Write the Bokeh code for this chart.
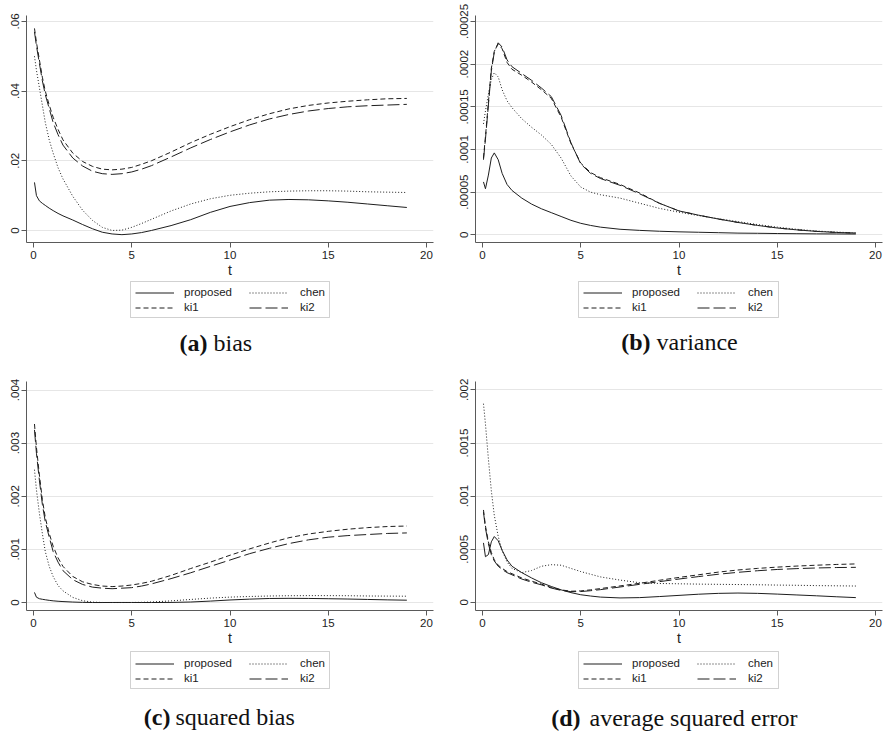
from bokeh.plotting import figure
from bokeh.models import Range1d, FixedTicker, Legend, LegendItem, Label, BoxAnnotation
from bokeh.layouts import gridplot
from bokeh.embed import file_html
from bokeh.resources import INLINE

# ---------------- data ----------------
T = [0.05, 0.15, 0.3, 0.45, 0.6, 0.8, 1.0, 1.25, 1.5,
     2, 2.5, 3, 3.5, 4, 4.5, 5, 5.5, 6,
     7, 8, 9, 10, 11, 12, 13, 14, 15, 16, 17, 18, 19]

SERIES = ["proposed", "chen", "ki1", "ki2"]

# (a) bias
bias_proposed = [0.0138, 0.0100, 0.0085, 0.0078, 0.0072, 0.0064, 0.0057, 0.0049, 0.0042,
                 0.0030, 0.0017, 0.0005, -0.0005, -0.0010, -0.0012, -0.0010, -0.0006, 0.0000,
                 0.0014, 0.0031, 0.0052, 0.0069, 0.0080, 0.0087, 0.0089, 0.0088, 0.0085, 0.0081, 0.0076, 0.0071, 0.0066]
bias_chen = [0.050, 0.046, 0.041, 0.036, 0.031, 0.026, 0.0222, 0.018, 0.0148,
             0.0098, 0.0058, 0.0029, 0.0009, 0.0000, 0.0001, 0.0009, 0.0020, 0.0032,
             0.0056, 0.0076, 0.0091, 0.0101, 0.0107, 0.0111, 0.0113, 0.0114, 0.0114, 0.0113, 0.0111, 0.0110, 0.0109]
bias_ki1 = [0.058, 0.054, 0.049, 0.044, 0.040, 0.036, 0.0325, 0.029, 0.026,
            0.0222, 0.0198, 0.0184, 0.0176, 0.0174, 0.0176, 0.0181, 0.0190, 0.0200,
            0.0225, 0.0252, 0.0276, 0.0298, 0.0318, 0.0335, 0.0349, 0.0359, 0.0366, 0.0371, 0.0375, 0.0378, 0.0379]
bias_ki2 = [0.057, 0.053, 0.048, 0.043, 0.039, 0.035, 0.031, 0.0275, 0.0245,
            0.0208, 0.0185, 0.0170, 0.0163, 0.0161, 0.0163, 0.0168, 0.0176, 0.0186,
            0.0211, 0.0237, 0.0261, 0.0283, 0.0303, 0.0320, 0.0333, 0.0343, 0.0350, 0.0355, 0.0358, 0.0360, 0.0362]

# (b) variance
var_proposed = [6.2e-5, 5.4e-5, 7.0e-5, 9.0e-5, 9.6e-5, 8.8e-5, 7.2e-5, 5.9e-5, 5.2e-5,
                4.3e-5, 3.6e-5, 3.05e-5, 2.6e-5, 2.15e-5, 1.7e-5, 1.35e-5, 1.1e-5, 0.9e-5,
                0.65e-5, 0.52e-5, 0.42e-5, 0.35e-5, 0.3e-5, 0.25e-5, 0.2e-5, 0.18e-5, 0.15e-5, 0.13e-5, 0.11e-5, 0.1e-5, 0.09e-5]
var_chen = [1.30e-4, 1.45e-4, 1.65e-4, 1.82e-4, 1.90e-4, 1.85e-4, 1.70e-4, 1.57e-4, 1.49e-4,
            1.36e-4, 1.26e-4, 1.17e-4, 1.06e-4, 9.0e-5, 6.9e-5, 5.6e-5, 5.0e-5, 4.7e-5,
            4.3e-5, 3.7e-5, 3.1e-5, 2.65e-5, 2.25e-5, 1.9e-5, 1.55e-5, 1.2e-5, 9.0e-6, 6.5e-6, 4.5e-6, 3.2e-6, 2.3e-6]
var_ki1 = [9.0e-5, 1.15e-4, 1.55e-4, 1.95e-4, 2.15e-4, 2.24e-4, 2.18e-4, 2.02e-4, 1.94e-4,
           1.87e-4, 1.79e-4, 1.70e-4, 1.60e-4, 1.38e-4, 1.07e-4, 8.4e-5, 7.3e-5, 6.7e-5,
           5.9e-5, 4.9e-5, 3.7e-5, 2.8e-5, 2.3e-5, 1.85e-5, 1.45e-5, 1.1e-5, 8.0e-6, 5.8e-6, 4.0e-6, 2.8e-6, 2.0e-6]
var_ki2 = [8.8e-5, 1.12e-4, 1.52e-4, 1.92e-4, 2.14e-4, 2.25e-4, 2.20e-4, 2.05e-4, 1.97e-4,
           1.89e-4, 1.81e-4, 1.72e-4, 1.62e-4, 1.40e-4, 1.08e-4, 8.3e-5, 7.2e-5, 6.6e-5,
           5.8e-5, 4.8e-5, 3.7e-5, 2.8e-5, 2.3e-5, 1.85e-5, 1.45e-5, 1.1e-5, 8.0e-6, 5.8e-6, 4.0e-6, 2.8e-6, 2.0e-6]

# (c) squared bias
sqb_proposed = [1.90e-4, 1.00e-4, 7.2e-5, 6.1e-5, 5.2e-5, 4.1e-5, 3.2e-5, 2.4e-5, 1.8e-5,
                9.0e-6, 3.0e-6, 2.5e-7, 2.5e-7, 1.0e-6, 1.4e-6, 1.0e-6, 3.6e-7, 0.0,
                2.0e-6, 9.6e-6, 2.7e-5, 4.8e-5, 6.4e-5, 7.6e-5, 7.9e-5, 7.7e-5, 7.2e-5, 6.6e-5, 5.8e-5, 5.0e-5, 4.4e-5]
sqb_chen = [2.50e-3, 2.12e-3, 1.68e-3, 1.30e-3, 9.6e-4, 6.8e-4, 4.9e-4, 3.2e-4, 2.2e-4,
            9.6e-5, 3.4e-5, 8.0e-6, 1.0e-6, 0.0, 0.0, 1.0e-6, 4.0e-6, 1.0e-5,
            3.1e-5, 5.8e-5, 8.3e-5, 1.02e-4, 1.14e-4, 1.23e-4, 1.28e-4, 1.30e-4, 1.30e-4, 1.28e-4, 1.23e-4, 1.21e-4, 1.19e-4]
sqb_ki1 = [3.36e-3, 2.92e-3, 2.40e-3, 1.94e-3, 1.60e-3, 1.30e-3, 1.06e-3, 8.4e-4, 6.8e-4,
           4.9e-4, 3.9e-4, 3.4e-4, 3.1e-4, 3.0e-4, 3.1e-4, 3.3e-4, 3.6e-4, 4.0e-4,
           5.1e-4, 6.4e-4, 7.6e-4, 8.9e-4, 1.01e-3, 1.12e-3, 1.22e-3, 1.29e-3, 1.34e-3, 1.38e-3, 1.41e-3, 1.43e-3, 1.44e-3]
sqb_ki2 = [3.25e-3, 2.81e-3, 2.30e-3, 1.85e-3, 1.52e-3, 1.23e-3, 9.6e-4, 7.6e-4, 6.0e-4,
           4.3e-4, 3.4e-4, 2.9e-4, 2.7e-4, 2.6e-4, 2.7e-4, 2.8e-4, 3.1e-4, 3.5e-4,
           4.5e-4, 5.6e-4, 6.8e-4, 8.0e-4, 9.2e-4, 1.02e-3, 1.11e-3, 1.18e-3, 1.23e-3, 1.26e-3, 1.28e-3, 1.30e-3, 1.31e-3]

# (d) average squared error
ase_proposed = [5.6e-4, 4.3e-4, 4.5e-4, 5.7e-4, 6.2e-4, 5.8e-4, 4.9e-4, 4.0e-4, 3.4e-4,
                2.8e-4, 2.3e-4, 1.85e-4, 1.5e-4, 1.18e-4, 9.2e-5, 7.2e-5, 6.0e-5, 5.0e-5,
                4.2e-5, 4.5e-5, 5.5e-5, 6.6e-5, 7.7e-5, 8.5e-5, 8.8e-5, 8.5e-5, 7.8e-5, 7.0e-5, 6.2e-5, 5.3e-5, 4.5e-5]
ase_chen = [1.87e-3, 1.68e-3, 1.35e-3, 1.05e-3, 8.2e-4, 6.2e-4, 4.9e-4, 3.8e-4, 3.2e-4,
            2.8e-4, 3.0e-4, 3.4e-4, 3.55e-4, 3.5e-4, 3.2e-4, 2.9e-4, 2.65e-4, 2.4e-4,
            2.1e-4, 1.85e-4, 1.78e-4, 1.75e-4, 1.72e-4, 1.70e-4, 1.68e-4, 1.66e-4, 1.63e-4, 1.61e-4, 1.58e-4, 1.56e-4, 1.54e-4]
ase_ki1 = [8.7e-4, 7.2e-4, 5.7e-4, 4.7e-4, 4.0e-4, 3.5e-4, 3.2e-4, 2.9e-4, 2.7e-4,
           2.3e-4, 2.0e-4, 1.72e-4, 1.4e-4, 1.18e-4, 1.05e-4, 1.08e-4, 1.18e-4, 1.3e-4,
           1.55e-4, 1.8e-4, 2.08e-4, 2.35e-4, 2.6e-4, 2.85e-4, 3.05e-4, 3.2e-4, 3.32e-4, 3.42e-4, 3.5e-4, 3.57e-4, 3.62e-4]
ase_ki2 = [8.5e-4, 7.0e-4, 5.5e-4, 4.5e-4, 3.9e-4, 3.4e-4, 3.1e-4, 2.8e-4, 2.6e-4,
           2.2e-4, 1.9e-4, 1.65e-4, 1.35e-4, 1.13e-4, 1.01e-4, 1.02e-4, 1.1e-4, 1.2e-4,
           1.45e-4, 1.7e-4, 1.95e-4, 2.2e-4, 2.43e-4, 2.65e-4, 2.83e-4, 2.98e-4, 3.1e-4, 3.18e-4, 3.24e-4, 3.28e-4, 3.3e-4]

X_TICKS = [0, 5, 10, 15, 20]
X_LABELS = ["0", "5", "10", "15", "20"]
BIAS_TICKS = [0, 0.02, 0.04, 0.06]
BIAS_LABELS = ["0", ".02", ".04", ".06"]
VAR_TICKS = [0, 0.00005, 0.0001, 0.00015, 0.0002, 0.00025]
VAR_LABELS = ["0", ".00005", ".0001", ".00015", ".0002", ".00025"]
SQB_TICKS = [0, 0.001, 0.002, 0.003, 0.004]
SQB_LABELS = ["0", ".001", ".002", ".003", ".004"]
ASE_TICKS = [0, 0.0005, 0.001, 0.0015, 0.002]
ASE_LABELS = ["0", ".0005", ".001", ".0015", ".002"]

# ---------------- styling ----------------
DASH = {"proposed": "solid", "chen": "1 2", "ki1": "5 3", "ki2": "12 4"}
LINE_COLOR = "#1e1e1e"
LINE_WIDTH = 1.0
AXIS_COLOR = "#5a5a5a"
GRID_COLOR = "#e6e6e6"
SANS = "Liberation Sans"
SERIF = "Liberation Serif"


def make_plot(width, height, borders, yr, yticks, ylabels, ys):
    left, right, top, bottom = borders
    p = figure(width=width, height=height,
               x_range=Range1d(-0.356, 20.356), y_range=Range1d(yr[0], yr[1]),
               output_backend="svg", toolbar_location=None,
               min_border_left=left, min_border_right=right,
               min_border_top=top, min_border_bottom=bottom,
               outline_line_color=None, background_fill_color="white",
               border_fill_color="white")
    for name, y in zip(SERIES, ys):
        p.line(T, y, line_color=LINE_COLOR, line_width=LINE_WIDTH, line_dash=DASH[name])

    xa = p.xaxis[0]
    xa.ticker = FixedTicker(ticks=X_TICKS)
    xa.major_label_overrides = dict(zip(X_TICKS, X_LABELS))
    xa.minor_tick_line_color = None
    xa.major_tick_out = 5
    xa.major_tick_in = 0
    xa.axis_line_color = AXIS_COLOR
    xa.major_tick_line_color = AXIS_COLOR
    xa.major_label_text_font = SANS
    xa.major_label_text_font_size = "11.5px"
    xa.major_label_text_color = "#222222"
    xa.major_label_standoff = 3
    xa.axis_label = "t"
    xa.axis_label_text_font = SANS
    xa.axis_label_text_font_size = "14px"
    xa.axis_label_text_font_style = "normal"
    xa.axis_label_text_color = "#222222"
    xa.axis_label_standoff = 0

    ya = p.yaxis[0]
    ya.ticker = FixedTicker(ticks=yticks)
    ya.major_label_overrides = dict(zip(yticks, ylabels))
    ya.minor_tick_line_color = None
    ya.major_tick_out = 5
    ya.major_tick_in = 0
    ya.axis_line_color = AXIS_COLOR
    ya.major_tick_line_color = AXIS_COLOR
    ya.major_label_text_font = SANS
    ya.major_label_text_font_size = "11.5px"
    ya.major_label_text_color = "#222222"
    ya.major_label_standoff = 2
    ya.major_label_orientation = "vertical"

    p.xgrid.visible = False
    p.ygrid.grid_line_color = GRID_COLOR
    p.ygrid.grid_line_width = 1
    return p


def legend_column(items, x, y, standoff):
    return Legend(
        items=items, location=(x, y), orientation="vertical",
        glyph_width=39, glyph_height=15, label_height=15, label_standoff=standoff,
        label_text_font=SANS, label_text_font_size="11.5px", label_text_color="#222222",
        padding=0, spacing=0, margin=0,
        border_line_color=None, background_fill_alpha=0.0,
    )


def make_footer(width, height, ys, box, legend_y, cap_bold, bold_right, cap_rest, rest_left, cap_y):
    # the footer's frame is aligned (by the grid) with the plot frame above it;
    # its ranges keep the series out of view: they only feed the legend samples
    f = figure(width=width, height=height, x_range=Range1d(-100, -99), y_range=Range1d(-100, -99),
               output_backend="svg", toolbar_location=None,
               x_axis_type=None, y_axis_type=None,
               min_border_left=0, min_border_right=0, min_border_top=0, min_border_bottom=0,
               outline_line_color=None, background_fill_color="white",
               border_fill_color="white")
    keys = {}
    for name, y in zip(SERIES, ys):
        keys[name] = f.line(T, y, line_color=LINE_COLOR, line_width=LINE_WIDTH, line_dash=DASH[name])

    bl, br, bb, bt = box
    f.add_layout(BoxAnnotation(left=bl, right=br, bottom=bb, top=bt,
                               left_units="screen", right_units="screen",
                               bottom_units="screen", top_units="screen",
                               fill_color="white", fill_alpha=1.0,
                               line_color="#666666", line_width=1, level="underlay"))
    f.add_layout(legend_column([LegendItem(label="proposed", renderers=[keys["proposed"]]),
                                LegendItem(label="ki1", renderers=[keys["ki1"]])],
                               bl + 5, legend_y, 10))
    f.add_layout(legend_column([LegendItem(label="chen", renderers=[keys["chen"]]),
                                LegendItem(label="ki2", renderers=[keys["ki2"]])],
                               bl + 119, legend_y, 12))

    f.add_layout(Label(x=bold_right, y=cap_y, x_units="screen", y_units="screen",
                       text=cap_bold, text_font=SERIF, text_font_size="24px",
                       text_font_style="bold", text_align="right",
                       text_baseline="alphabetic", text_color="#111111"))
    f.add_layout(Label(x=rest_left, y=cap_y, x_units="screen", y_units="screen",
                       text=cap_rest, text_font=SERIF, text_font_size="24px",
                       text_font_style="normal", text_align="left",
                       text_baseline="alphabetic", text_color="#111111"))
    return f


A = [bias_proposed, bias_chen, bias_ki1, bias_ki2]
B = [var_proposed, var_chen, var_ki1, var_ki2]
C = [sqb_proposed, sqb_chen, sqb_ki1, sqb_ki2]
D = [ase_proposed, ase_chen, ase_ki1, ase_ki2]

pa = make_plot(440, 280, (26, 7, 15, 38), (-0.00345, 0.0617), BIAS_TICKS, BIAS_LABELS, A)
pb = make_plot(444, 280, (35, 2, 15, 38), (-9.0e-6, 2.57e-4), VAR_TICKS, VAR_LABELS, B)
pc = make_plot(440, 283, (26, 7, 16, 38), (-0.00015, 0.00416), SQB_TICKS, SQB_LABELS, C)
pd = make_plot(444, 283, (35, 2, 16, 38), (-0.0000763, 0.002079), ASE_TICKS, ASE_LABELS, D)

fa = make_footer(440, 85, A, (104, 303, 48, 84), 50.5, "(a)", 181, "bias", 187, 23)
fb = make_footer(444, 85, B, (103, 303, 48, 84), 50.5, "(b)", 175, "variance", 181, 24)
fc = make_footer(440, 87, C, (104, 303, 47, 84), 49.5, "(c)", 144, "squared bias", 149, 19)
fd = make_footer(444, 87, D, (103, 303, 47, 84), 49.5, "(d)", 105, "average squared error", 114, 18)

grid = gridplot([[pa, pb], [fa, fb], [pc, pd], [fc, fd]], toolbar_location=None)

with open("out.html", "w") as f:
    f.write(file_html(grid, INLINE))
